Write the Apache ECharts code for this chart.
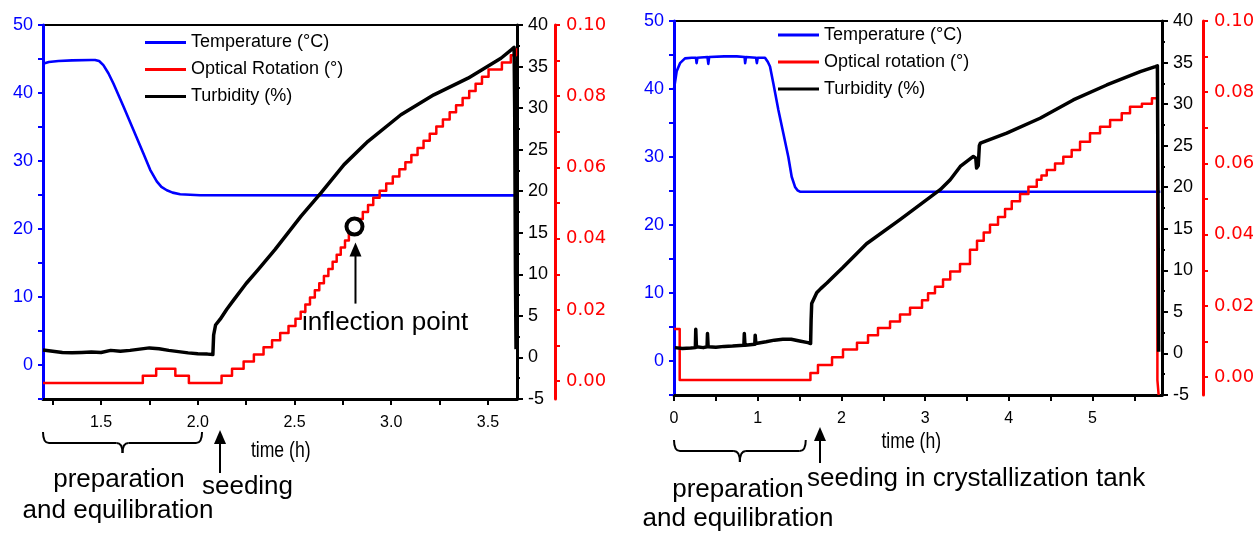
<!DOCTYPE html>
<html>
<head>
<meta charset="utf-8">
<script src="https://cdn.jsdelivr.net/npm/echarts@6/dist/echarts.min.js"></script>
<style>
html,body{margin:0;padding:0;background:#fff;}
#chart{width:1253px;height:533px;}
</style>
</head>
<body>
<div id="chart"></div>
<script>
// ---------------- DATA ----------------
// Left panel: time (h) vs value
const leftTemperature = [[1.2,44.3],[1.23,44.55],[1.28,44.7],[1.35,44.8],[1.45,44.85],[1.469,44.85],[1.49,44.7],[1.512,44.1],[1.538,42.9],[1.564,41.4],[1.616,38.0],[1.667,34.6],[1.719,31.1],[1.754,28.7],[1.788,27.0],[1.812,26.2],[1.840,25.7],[1.87,25.35],[1.909,25.1],[2.012,24.96],[3.0,24.95],[3.645,24.95]];
const leftTurbidity = [[1.2,0.9],[1.25,0.75],[1.3,0.6],[1.35,0.55],[1.4,0.6],[1.45,0.65],[1.5,0.6],[1.55,0.85],[1.6,0.75],[1.65,0.85],[1.7,1.0],[1.75,1.15],[1.8,1.05],[1.85,0.85],[1.9,0.7],[1.95,0.55],[2.0,0.45],[2.05,0.4],[2.078,0.35],[2.082,2.7],[2.092,3.9],[2.116,4.6],[2.15,5.8],[2.185,6.9],[2.25,8.9],[2.31,10.5],[2.4,13.0],[2.534,17.0],[2.637,19.8],[2.756,23.2],[2.88,26.0],[3.05,29.2],[3.22,31.6],[3.397,33.6],[3.567,36.0],[3.62,37.0],[3.635,37.3],[3.638,30],[3.642,10],[3.645,1.0]];
const leftRotation = [[1.2,-0.0005],[1.716,0.0015],[1.785,0.0035],[1.884,0.0015],[1.954,-0.0005],[2.123,0.0015],[2.177,0.0035],[2.237,0.0055],[2.29,0.0075],[2.34,0.0095],[2.384,0.0115],[2.426,0.0135],[2.469,0.0155],[2.505,0.0175],[2.532,0.0195],[2.556,0.0215],[2.58,0.0235],[2.605,0.0255],[2.628,0.0275],[2.652,0.0295],[2.675,0.0315],[2.697,0.0335],[2.718,0.0355],[2.739,0.0375],[2.761,0.0395],[2.781,0.0415],[2.80,0.0435],[2.827,0.0455],[2.853,0.0475],[2.88,0.0495],[2.907,0.0515],[2.94,0.0535],[2.974,0.0555],[3.008,0.0575],[3.042,0.0595],[3.073,0.0615],[3.104,0.0635],[3.136,0.0655],[3.167,0.0675],[3.199,0.0695],[3.233,0.0715],[3.267,0.0735],[3.302,0.0755],[3.335,0.0775],[3.369,0.0795],[3.403,0.0815],[3.436,0.0835],[3.469,0.0855],[3.503,0.0875],[3.572,0.0895],[3.618,0.0915],[3.645,0.0935]];
const leftInflection = [2.81, 0.0434];

// Right panel
const rightTemperature = [[0,40.0],[0.012,40.1],[0.032,42.6],[0.072,43.8],[0.131,44.5],[0.211,44.6],[0.262,44.6],[0.27,43.8],[0.28,44.6],[0.40,44.7],[0.41,43.7],[0.42,44.7],[0.6,44.8],[0.75,44.8],[0.843,44.7],[0.85,43.8],[0.86,44.7],[0.98,44.6],[0.99,43.8],[1.0,44.6],[1.087,44.6],[1.12,44.0],[1.147,43.3],[1.187,40.8],[1.247,36.9],[1.306,33.5],[1.366,30.0],[1.406,27.1],[1.446,25.6],[1.475,25.1],[1.505,24.9],[3.0,24.9],[5.81,24.9]];
const rightTurbidity = [[0.01,0.7],[0.1,0.6],[0.2,0.65],[0.255,0.7],[0.26,2.9],[0.268,0.8],[0.35,0.7],[0.395,0.8],[0.40,2.4],[0.408,0.8],[0.5,0.75],[0.6,0.85],[0.7,0.9],[0.835,1.0],[0.84,2.4],[0.848,1.0],[0.965,1.1],[0.97,2.2],[0.978,1.2],[1.1,1.4],[1.2,1.6],[1.3,1.7],[1.4,1.7],[1.5,1.5],[1.6,1.3],[1.632,1.2],[1.638,4.0],[1.645,6.0],[1.705,7.3],[1.753,7.8],[1.83,8.5],[1.90,9.2],[2.014,10.3],[2.30,13.2],[2.70,16.1],[3.02,18.5],[3.18,19.7],[3.30,20.9],[3.42,22.5],[3.576,23.7],[3.605,23.5],[3.615,22.3],[3.635,22.6],[3.648,25.0],[3.66,25.3],[3.975,26.5],[4.373,28.3],[4.77,30.5],[5.17,32.3],[5.57,33.9],[5.75,34.5],[5.775,34.6],[5.782,20],[5.79,0.2]];
const rightRotation = [[0,0.0135],[0.068,-0.0008],[1.63,0.0012],[1.72,0.0034],[1.888,0.0056],[2.019,0.0078],[2.186,0.0097],[2.318,0.0118],[2.437,0.0138],[2.581,0.0156],[2.70,0.0176],[2.82,0.0195],[2.963,0.0216],[3.035,0.0236],[3.118,0.0254],[3.214,0.0274],[3.30,0.0297],[3.417,0.0318],[3.536,0.0358],[3.62,0.0383],[3.70,0.0406],[3.775,0.0428],[3.871,0.0450],[3.955,0.0472],[4.035,0.0494],[4.134,0.0514],[4.234,0.0535],[4.334,0.0554],[4.39,0.0566],[4.453,0.0582],[4.552,0.0600],[4.651,0.0619],[4.751,0.0638],[4.851,0.0661],[4.97,0.0685],[5.09,0.0703],[5.21,0.0722],[5.349,0.0741],[5.448,0.0759],[5.59,0.0768],[5.71,0.0783],[5.775,-0.0008],[5.79,-0.005]];

// Tick / label values
const leftTimeTicks = [1.25,1.5,1.75,2.0,2.25,2.5,2.75,3.0,3.25,3.5];
const leftTimeLabels = [1.5,2.0,2.5,3.0,3.5];
const rightTimeTicks = [0,0.5,1,1.5,2,2.5,3,3.5,4,4.5,5,5.5];
const rightTimeLabels = [0,1,2,3,4,5];
const temperatureLabels = [0,10,20,30,40,50];
const rotationTicks = [0,0.01,0.02,0.03,0.04,0.05,0.06,0.07,0.08,0.09,0.10];
const rotationLabels = [0,0.02,0.04,0.06,0.08,0.10];

// Annotation anchors (time units)
const leftSeedingTime = 2.115;
const rightSeedingTime = 1.744;
const leftPrepRange = [1.2, 2.022];
const rightPrepRange = [0, 1.574];

const seriesNamesLeft = ['Temperature (°C)','Optical Rotation (°)','Turbidity (%)'];
const seriesNamesRight = ['Temperature (°C)','Optical rotation (°)','Turbidity (%)'];

// ---------------- STYLE ----------------
const FONT = '"Liberation Sans", Arial, Helvetica, sans-serif';
const WIDEFONT = '"DejaVu Sans", "Liberation Sans", Arial, sans-serif';
const BLUE = '#0000ff', RED = '#ff0000', BLACK = '#000000';

function xAxisDef(grid, min, max, ticks, labels, fmt) {
  return {
    type:'value', gridIndex:grid, min:min, max:max, position:'bottom',
    axisLine:{show:true, onZero:false, lineStyle:{color:BLACK, width:3}},
    axisTick:{show:true, customValues:ticks, length:6, inside:false, lineStyle:{color:BLACK, width:2}},
    axisLabel:{customValues:labels, formatter:fmt, color:BLACK, fontSize:16, fontFamily:FONT, margin:16},
    splitLine:{show:false}
  };
}
function tempAxis(grid) {
  return {
    type:'value', gridIndex:grid, position:'left', min:-5, max:50, interval:5,
    axisLine:{show:true, onZero:false, lineStyle:{color:BLUE, width:3}},
    axisTick:{show:true, length:5, lineStyle:{color:BLUE, width:2}},
    axisLabel:{customValues:temperatureLabels, color:BLUE, fontSize:18, fontFamily:FONT, margin:10},
    splitLine:{show:false}
  };
}
function turbAxis(grid) {
  return {
    type:'value', gridIndex:grid, position:'right', min:-5, max:40, interval:5,
    axisLine:{show:true, onZero:false, lineStyle:{color:BLACK, width:3}},
    axisTick:{show:true, length:6, lineStyle:{color:BLACK, width:2}},
    minorTick:{show:true, splitNumber:2, length:3, lineStyle:{color:BLACK, width:2}},
    axisLabel:{color:BLACK, fontSize:18, fontFamily:FONT, margin:11},
    splitLine:{show:false}, minorSplitLine:{show:false}
  };
}
function rotAxis(grid, offset) {
  return {
    type:'value', gridIndex:grid, position:'right', offset:offset, min:-0.005, max:0.10, interval:0.005,
    axisLine:{show:true, onZero:false, lineStyle:{color:RED, width:3}},
    axisTick:{show:true, customValues:rotationTicks, length:5, lineStyle:{color:RED, width:2}},
    axisLabel:{customValues:rotationLabels, formatter:v=>v.toFixed(2), color:RED, fontSize:18, fontFamily:WIDEFONT, margin:11},
    splitLine:{show:false}
  };
}
function lineSeries(name, xi, yi, data, color, width, step) {
  const s = {
    name:name, type:'line', xAxisIndex:xi, yAxisIndex:yi, data:data,
    showSymbol:false, symbol:'none', animation:false, silent:true,
    lineStyle:{color:color, width:width, join:'round'}, itemStyle:{color:color}
  };
  if (step) s.step = step;
  return s;
}
function legendDef(left, top, names) {
  return {
    left:left, top:top, orient:'vertical', itemWidth:41, itemHeight:3, itemGap:9,
    icon:'rect', selectedMode:false, data:names, padding:0,
    textStyle:{fontSize:18, fontFamily:FONT, color:BLACK, lineHeight:18}
  };
}

const option = {
  animation:false,
  backgroundColor:'#ffffff',
  grid:[
    {left:43, top:25, width:474, height:374, show:true, borderColor:BLACK, borderWidth:2, backgroundColor:'transparent', containLabel:false, outerBoundsMode:'none'},
    {left:674, top:21, width:488, height:374, show:true, borderColor:BLACK, borderWidth:2, backgroundColor:'transparent', containLabel:false, outerBoundsMode:'none'}
  ],
  legend:[ legendDef(145, 33.5, seriesNamesLeft), legendDef(778, 26, seriesNamesRight) ],
  xAxis:[
    xAxisDef(0, 1.2, 3.65, leftTimeTicks, leftTimeLabels, v=>v.toFixed(1)),
    xAxisDef(1, 0, 5.83, rightTimeTicks, rightTimeLabels, v=>String(v))
  ],
  yAxis:[ tempAxis(0), turbAxis(0), rotAxis(0, 38), tempAxis(1), turbAxis(1), rotAxis(1, 41) ],
  series:[
    lineSeries(seriesNamesLeft[0], 0, 0, leftTemperature, BLUE, 2.6),
    lineSeries(seriesNamesLeft[1], 0, 2, leftRotation, RED, 2.5, 'end'),
    lineSeries(seriesNamesLeft[2], 0, 1, leftTurbidity, BLACK, 3.5),
    {type:'scatter', xAxisIndex:0, yAxisIndex:2, data:[leftInflection], symbol:'circle', symbolSize:16,
     itemStyle:{color:'#ffffff', borderColor:BLACK, borderWidth:4, opacity:1}, z:10, silent:true},
    lineSeries(seriesNamesRight[0], 1, 3, rightTemperature, BLUE, 2.6),
    lineSeries(seriesNamesRight[1], 1, 5, rightRotation, RED, 2.5, 'end'),
    lineSeries(seriesNamesRight[2], 1, 4, rightTurbidity, BLACK, 3.5)
  ]
};

const chart = echarts.init(document.getElementById('chart'), null, {renderer:'canvas'});
chart.setOption(option);

// ---------------- ANNOTATIONS ----------------
const px = (gi, t) => chart.convertToPixel({xAxisIndex:gi}, t);
const py = (yi, v) => chart.convertToPixel({yAxisIndex:yi}, v);
const LS = {stroke:BLACK, lineWidth:2, fill:null};

function seg(x1, y1, x2, y2) {
  return {type:'line', shape:{x1:x1, y1:y1, x2:x2, y2:y2}, style:LS, silent:true};
}
function curve(x1, y1, cx, cy, x2, y2) {
  return {type:'bezierCurve', shape:{x1:x1, y1:y1, x2:x2, y2:y2, cpx1:cx, cpy1:cy}, style:LS, silent:true};
}
function brace(x0, x1, yTop, yH, yTip) {
  const r = 6, xc = (x0 + x1) / 2;
  return [
    curve(x0, yTop, x0, yH, x0 + r, yH),
    seg(x0 + r, yH, xc - r, yH),
    curve(xc - r, yH, xc, yH, xc, yTip),
    curve(xc, yTip, xc, yH, xc + r, yH),
    seg(xc + r, yH, x1 - r, yH),
    curve(x1 - r, yH, x1, yH, x1, yTop)
  ];
}
function arrow(x, yTip, yEnd) {
  return [
    seg(x, yTip + 10, x, yEnd),
    {type:'polygon', shape:{points:[[x, yTip],[x - 6, yTip + 14],[x + 6, yTip + 14]]}, style:{fill:BLACK}, silent:true}
  ];
}
function label(text, x, y, size, align, scaleX) {
  const el = {type:'text', x:x, y:y, silent:true,
    style:{text:text, fontSize:size, fontFamily:FONT, fill:BLACK, align:align || 'center', verticalAlign:'middle'}};
  if (scaleX) el.scaleX = scaleX;
  return el;
}

const lb0 = px(0, leftPrepRange[0]), lb1 = px(0, leftPrepRange[1]);
const rb0 = px(1, rightPrepRange[0]), rb1 = px(1, rightPrepRange[1]);
const infX = px(0, leftInflection[0]), infY = py(2, leftInflection[1]);
const lsx = px(0, leftSeedingTime), rsx = px(1, rightSeedingTime);

const elements = [].concat(
  brace(lb0, lb1, 432, 443, 453),
  brace(rb0, rb1, 440, 451, 462),
  arrow(infX + 1, infY + 16, infY + 77),
  arrow(lsx, 430, 473),
  arrow(rsx, 427, 463),
  [
    label('inflection point', 385, 323, 26),
    label('preparation', 119, 479.5, 26),
    label('and equilibration', 118, 511, 26),
    label('seeding', 247.5, 486.5, 26),
    label('time (h)', 280.7, 450.5, 22, 'center', 0.8),
    label('preparation', 738, 489.5, 26),
    label('and equilibration', 738, 519, 26),
    label('seeding in crystallization tank', 807, 479, 26, 'left'),
    label('time (h)', 911.3, 441.5, 22, 'center', 0.8)
  ]
);
chart.setOption({graphic:{elements:elements}});
</script>
</body>
</html>
